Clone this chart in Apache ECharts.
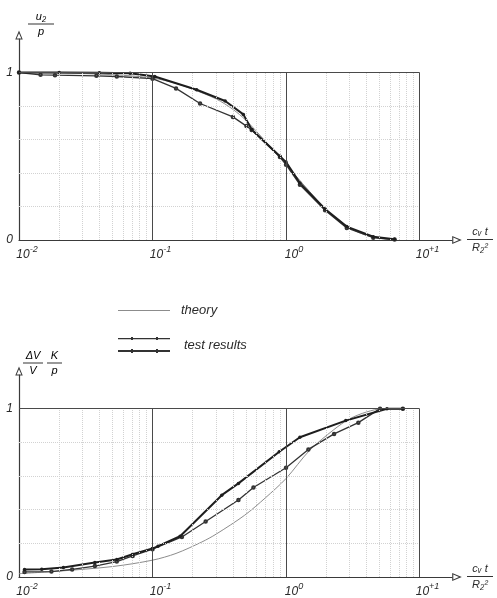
<!DOCTYPE html>
<html>
<head>
<meta charset="utf-8">
<script src="https://cdn.jsdelivr.net/npm/echarts@6/dist/echarts.min.js"></script>
<style>
html, body { margin: 0; padding: 0; background: #fff; }
#main { width: 497px; height: 598px; }
</style>
</head>
<body>
<div id="main"></div>
<script>
// upper diagram: u2/p against cv t / R2^2
var theoryTop = [[0.01, 1.0], [0.02, 0.997], [0.05, 0.987], [0.1, 0.967], [0.15, 0.935], [0.2, 0.9], [0.3, 0.842], [0.4, 0.78], [0.5, 0.715], [0.7, 0.59], [1.0, 0.45], [1.5, 0.29], [2.0, 0.18], [3.0, 0.072], [4.0, 0.028], [5.0, 0.01], [6.5, 0.002]];
var testTopA = [[0.01, 1.0], [0.0145, 0.986], [0.0186, 0.984], [0.038, 0.98], [0.054, 0.976], [0.1, 0.963], [0.15, 0.905], [0.227, 0.815], [0.4, 0.735], [0.505, 0.68], [0.553, 0.657], [0.9, 0.495], [1.0, 0.45], [1.27, 0.33], [1.96, 0.178], [2.85, 0.072], [4.5, 0.014], [6.5, 0.003]];
var testTopB = [[0.01, 1.0], [0.02, 1.0], [0.04, 0.998], [0.068, 0.995], [0.104, 0.976], [0.214, 0.897], [0.35, 0.83], [0.479, 0.75], [0.553, 0.66], [0.9, 0.5], [1.0, 0.465], [1.27, 0.34], [1.96, 0.185], [2.85, 0.08], [4.5, 0.02], [6.5, 0.004]];

// lower diagram: dV/V K/p against cv t / R2^2
var theoryBottom = [[0.01, 0.02], [0.02, 0.035], [0.05, 0.062], [0.1, 0.1], [0.15, 0.14], [0.234, 0.208], [0.3, 0.255], [0.49, 0.367], [0.7, 0.47], [1.0, 0.585], [1.5, 0.752], [2.26, 0.873], [3.0, 0.94], [4.0, 0.98], [5.3, 1.0], [7.5, 1.0]];
var testBottomA = [[0.011, 0.03], [0.0175, 0.032], [0.025, 0.045], [0.037, 0.065], [0.054, 0.092], [0.071, 0.125], [0.1, 0.165], [0.166, 0.238], [0.25, 0.33], [0.44, 0.457], [0.57, 0.532], [1.0, 0.649], [1.47, 0.758], [2.29, 0.85], [3.48, 0.917], [5.06, 1.0], [7.5, 1.0]];
var testBottomB = [[0.011, 0.045], [0.0148, 0.046], [0.0215, 0.056], [0.037, 0.086], [0.054, 0.104], [0.071, 0.135], [0.1, 0.169], [0.11, 0.183], [0.161, 0.242], [0.33, 0.486], [0.44, 0.556], [0.89, 0.744], [1.27, 0.83], [2.8, 0.929], [5.7, 1.0], [7.5, 1.0]];

var xTickPowers = [0.01, 0.1, 1, 10];
var xTickExponents = ['-2', '-1', '0', '+1'];
var yTickValues = [0, 1];
var yTickLabels = ['0', '1'];

// graph paper
var paperDecades = [0.01, 0.1, 1];
var paperSteps = [2, 3, 4, 5, 6, 7, 8, 9];
var paperLevels = [0.2, 0.4, 0.6, 0.8];
var frameVerticals = [0.1, 1, 10];

var ink = '#2a2a2a';
var font = 'Liberation Sans';
var arrowPath = 'path://M5,0 L10,12 L0,12 Z M5,3.6 L1.9,10.6 L8.1,10.6 Z';

var minorStyle = {color: '#d2d2d2', width: 1, type: 'dotted'};
var frameStyle = {color: '#4a4a4a', width: 1, type: 'solid'};

function paperLines() {
    var lines = [];
    paperDecades.forEach(function (d) {
        paperSteps.forEach(function (k) {
            lines.push([{coord: [d * k, 0], lineStyle: minorStyle}, {coord: [d * k, 1], lineStyle: minorStyle}]);
        });
    });
    paperLevels.forEach(function (v) {
        lines.push([{coord: [0.01, v], lineStyle: minorStyle}, {coord: [10, v], lineStyle: minorStyle}]);
    });
    frameVerticals.forEach(function (x) {
        lines.push([{coord: [x, 0], lineStyle: frameStyle}, {coord: [x, 1], lineStyle: frameStyle}]);
    });
    lines.push([{coord: [0.01, 1], lineStyle: frameStyle}, {coord: [10, 1], lineStyle: frameStyle}]);
    return lines;
}

var fracRich = {
    n: {fontFamily: font, fontStyle: 'italic', fontSize: 11, color: ink, lineHeight: 12, align: 'center'},
    bar: {width: 26, height: 1, lineHeight: 3, backgroundColor: '#333', align: 'center'},
    d: {fontFamily: font, fontStyle: 'italic', fontSize: 11, color: ink, lineHeight: 13, align: 'center'}
};

function xAxisFor(gridIndex) {
    return {
        type: 'log',
        logBase: 10,
        gridIndex: gridIndex,
        min: 0.01,
        max: 17.5,
        axisLine: {
            show: true,
            lineStyle: {color: '#3a3a3a', width: 1.2},
            symbol: ['none', arrowPath],
            symbolSize: [8, 11],
            symbolOffset: [0, 5]
        },
        axisTick: {show: false},
        splitLine: {show: false},
        minorTick: {show: false},
        axisLabel: {
            margin: 5,
            padding: [0, 0, 0, 16],
            formatter: function (value) {
                for (var i = 0; i < xTickPowers.length; i++) {
                    if (Math.abs(value - xTickPowers[i]) < xTickPowers[i] * 1e-6) {
                        return '{b|10}{s|' + xTickExponents[i] + '}';
                    }
                }
                return '';
            },
            rich: {
                b: {fontFamily: font, fontStyle: 'italic', fontSize: 12, color: ink, lineHeight: 16, verticalAlign: 'bottom'},
                s: {fontFamily: font, fontStyle: 'italic', fontSize: 9, color: ink, lineHeight: 16, verticalAlign: 'top'}
            }
        },
        name: '{n|c\u1d65 t}\n{bar|}\n{d|R\u2082\u00b2}',
        nameLocation: 'end',
        nameGap: 15,
        nameTextStyle: {rich: fracRich}
    };
}

function yAxisFor(gridIndex) {
    return {
        type: 'value',
        gridIndex: gridIndex,
        min: 0,
        max: 1.2,
        interval: 1,
        axisLine: {
            show: true,
            lineStyle: {color: '#3a3a3a', width: 1.2},
            symbol: ['none', arrowPath],
            symbolSize: [8, 9],
            symbolOffset: [0, 4]
        },
        axisTick: {show: false},
        splitLine: {show: false},
        axisLabel: {
            margin: 6,
            fontFamily: font,
            fontStyle: 'italic',
            fontSize: 12,
            color: ink,
            formatter: function (value) {
                var i = yTickValues.indexOf(value);
                return i < 0 ? '' : yTickLabels[i];
            }
        }
    };
}

function theorySeries(data, idx) {
    return {
        name: 'theory', type: 'line', xAxisIndex: idx, yAxisIndex: idx,
        data: data, smooth: 0.3, showSymbol: false,
        lineStyle: {color: '#8c8c8c', width: 1},
        itemStyle: {color: '#8c8c8c'},
        markLine: {
            silent: true, symbol: ['none', 'none'], label: {show: false},
            animation: false, data: paperLines()
        },
        z: 3
    };
}

function testSeries(data, idx, thick) {
    return {
        name: 'test results', type: 'line', xAxisIndex: idx, yAxisIndex: idx,
        data: data,
        symbol: thick ? 'circle' : 'emptyCircle',
        symbolSize: thick ? 3.5 : 2.5,
        lineStyle: {color: thick ? '#1e1e1e' : '#333', width: thick ? 2 : 1.3},
        itemStyle: {color: thick ? '#1e1e1e' : '#333'},
        z: 4
    };
}

var myChart = echarts.init(document.getElementById('main'), null, {renderer: 'canvas'});

option = {
    animation: false,
    backgroundColor: '#fff',
    grid: [
        {left: 19, top: 39, width: 433, height: 201},
        {left: 19, top: 375, width: 433, height: 202}
    ],
    xAxis: [xAxisFor(0), xAxisFor(1)],
    yAxis: [yAxisFor(0), yAxisFor(1)],
    legend: [
        {
            data: [{name: 'theory', icon: 'rect'}],
            left: 113, top: 299,
            itemWidth: 52, itemHeight: 1,
            selectedMode: false,
            textStyle: {fontFamily: font, fontStyle: 'italic', fontSize: 13, color: ink, padding: [0, 0, 0, 6]}
        },
        {
            data: [{name: 'test results', icon: 'path://M0,0H52V1.2H0Z M0,12H52V14H0Z M13,-1H15V2H13Z M38,-1H40V2H38Z M13,11H15V15H13Z M38,11H40V15H38Z'}],
            left: 113, top: 332,
            itemWidth: 52, itemHeight: 16,
            selectedMode: false,
            textStyle: {fontFamily: font, fontStyle: 'italic', fontSize: 13, color: ink, padding: [0, 0, 0, 9]}
        }
    ],
    graphic: [
        {type: 'text', left: 28, top: 11, style: {text: '{n|u\u2082}\n{bar|}\n{d|p}', rich: fracRich}},
        {type: 'text', left: 23, top: 350, style: {text: '{n|\u0394V}\n{bar|}\n{d|V}', rich: {
            n: fracRich.n, d: fracRich.d,
            bar: {width: 20, height: 1, lineHeight: 3, backgroundColor: '#333', align: 'center'}
        }}},
        {type: 'text', left: 47, top: 350, style: {text: '{n|K}\n{bar|}\n{d|p}', rich: {
            n: fracRich.n, d: fracRich.d,
            bar: {width: 15, height: 1, lineHeight: 3, backgroundColor: '#333', align: 'center'}
        }}}
    ],
    series: [
        theorySeries(theoryTop, 0),
        testSeries(testTopA, 0, false),
        testSeries(testTopB, 0, true),
        theorySeries(theoryBottom, 1),
        testSeries(testBottomA, 1, false),
        testSeries(testBottomB, 1, true)
    ]
};

myChart.setOption(option);
</script>
</body>
</html>
